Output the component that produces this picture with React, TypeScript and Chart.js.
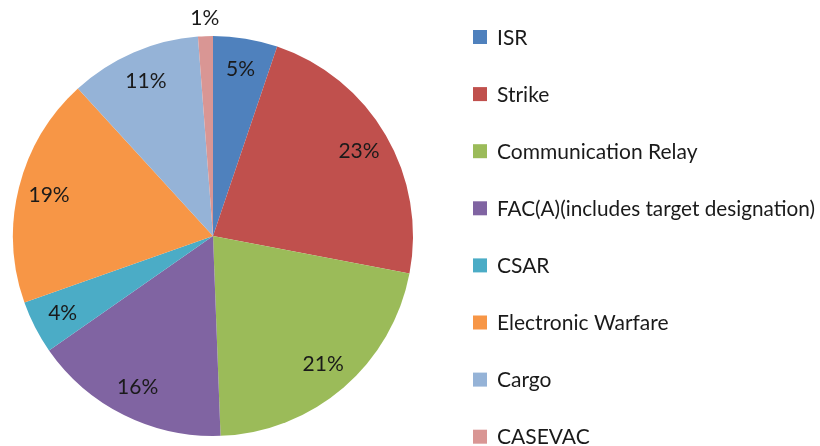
import React, { useEffect, useRef } from "react";
import { Chart, registerables } from "chart.js";

Chart.register(...registerables);

const categories = [
  "ISR",
  "Strike",
  "Communication Relay",
  "FAC(A)(includes target designation)",
  "CSAR",
  "Electronic Warfare",
  "Cargo",
  "CASEVAC",
];
const shares = [5.2, 22.8, 21.4, 15.9, 4.3, 18.6, 10.6, 1.2];
const sliceColors = [
  "#4F81BD",
  "#C0504D",
  "#9BBB59",
  "#8064A2",
  "#4BACC6",
  "#F79646",
  "#95B3D7",
  "#D99694",
];

const FONT = "Lato, 'Open Sans', sans-serif";
const TEXT_COLOR = "#1a1a1a";

const sliceLabelPlugin = {
  id: "sliceLabels",
  afterDatasetsDraw(chart: any) {
    const ctx = chart.ctx;
    const meta = chart.getDatasetMeta(0);
    const data = chart.data.datasets[0].data as number[];
    const total = data.reduce((a, b) => a + b, 0);
    ctx.save();
    ctx.font = `21px ${FONT}`;
    ctx.fillStyle = TEXT_COLOR;
    ctx.textAlign = "center";
    ctx.textBaseline = "middle";
    meta.data.forEach((arc: any, i: number) => {
      const p = arc.getProps(["x", "y", "startAngle", "endAngle", "outerRadius"], true);
      const pct = (data[i] / total) * 100;
      const mid = (p.startAngle + p.endAngle) / 2;
      const r = pct < 2 ? p.outerRadius + 18 : p.outerRadius * 0.845;
      ctx.fillText(Math.round(pct) + "%", p.x + Math.cos(mid) * r, p.y + Math.sin(mid) * r);
    });
    ctx.restore();
  },
};

const sideLegendPlugin = {
  id: "sideLegend",
  afterDraw(chart: any) {
    const ctx = chart.ctx;
    const labels = chart.data.labels as string[];
    const colors = chart.data.datasets[0].backgroundColor as string[];
    const boxX = 465;
    const textX = 489;
    const firstY = 29;
    const step = 57.1;
    const box = 14;
    ctx.save();
    ctx.font = `21px ${FONT}`;
    ctx.textAlign = "left";
    ctx.textBaseline = "middle";
    labels.forEach((label, i) => {
      const cy = firstY + step * i;
      ctx.fillStyle = colors[i];
      ctx.fillRect(boxX, cy - box / 2, box, box);
      ctx.fillStyle = TEXT_COLOR;
      ctx.fillText(label, textX, cy + 1, 318);
    });
    ctx.restore();
  },
};

export default function App() {
  const canvasRef = useRef<HTMLCanvasElement | null>(null);

  useEffect(() => {
    if (!canvasRef.current) return;
    const chart = new Chart(canvasRef.current, {
      type: "pie",
      data: {
        labels: categories,
        datasets: [
          {
            data: shares,
            backgroundColor: sliceColors,
            borderWidth: 0,
          },
        ],
      },
      options: {
        responsive: false,
        animation: false,
        layout: { padding: { left: 5, right: 407, top: 28, bottom: 10 } },
        plugins: {
          legend: { display: false },
          tooltip: { enabled: false },
        },
      },
      plugins: [sliceLabelPlugin, sideLegendPlugin],
    });
    return () => chart.destroy();
  }, []);

  return (
    <div style={{ position: "absolute", left: 8, top: 8, width: 812, height: 438, background: "#fff" }}>
      <canvas ref={canvasRef} width={812} height={438} style={{ display: "block" }} />
    </div>
  );
}
